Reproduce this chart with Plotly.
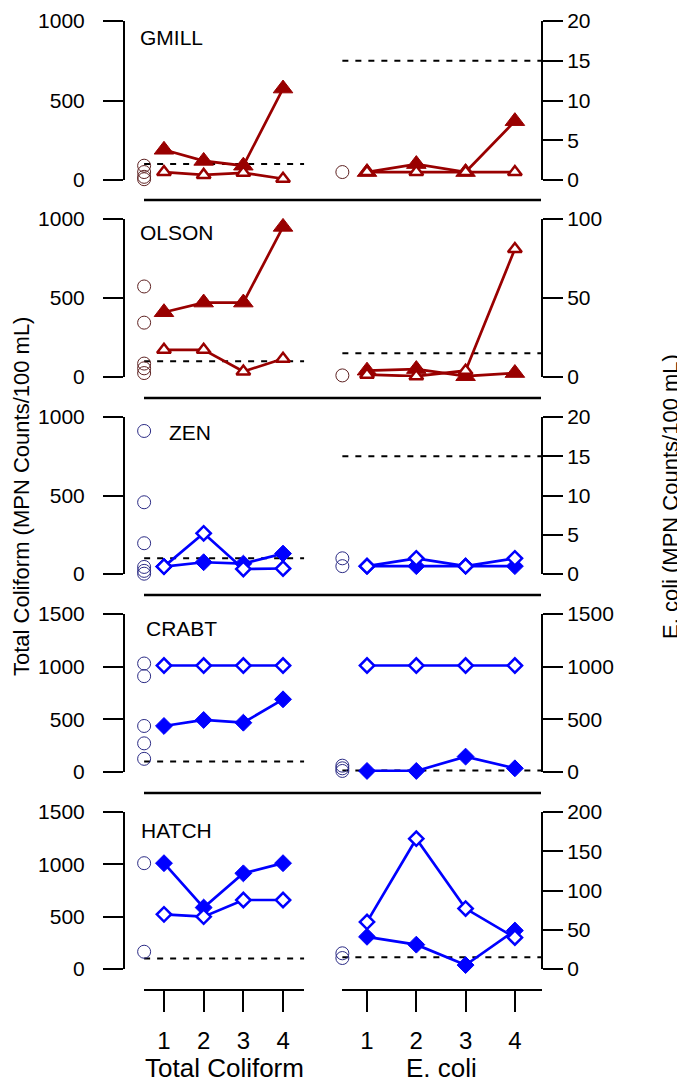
import plotly.graph_objects as go

W, H = 685, 1081
OFF = 8   # page body margin of the html page
FONT = "Liberation Sans, Arial, Helvetica, sans-serif"
DARKRED = "#990000"
BLUE = "#0000FF"
RED_REF = "#5e2222"
BLUE_REF = "#2b2b85"

# ---------------- data ----------------
sites = ["GMILL", "OLSON", "ZEN", "CRABT", "HATCH"]
weeks = [1, 2, 3, 4]
week_labels = ["1", "2", "3", "4"]
ref_position = 0.5          # category position of the reference samples
tc_standard = 100           # total coliform standard
ec_standard = 15            # E. coli standard

gmill_tc_solid = [190, 120, 90, 575]
gmill_tc_hollow = [50, 32, 45, 8]
gmill_tc_ref = [90, 50, 20, 5]
gmill_ec_solid = [1, 2, 1, 7.4]
gmill_ec_hollow = [1, 1, 1, 1]
gmill_ec_ref = [1]

olson_tc_solid = [410, 471, 471, 950]
olson_tc_hollow = [172, 172, 35, 115]
olson_tc_ref = [573, 344, 85, 55, 25]
olson_ec_solid = [4, 5, 0.5, 2.5]
olson_ec_hollow = [1.5, 0.5, 4, 81]
olson_ec_ref = [1]

zen_tc_solid = [47, 75, 66, 130]
zen_tc_hollow = [47, 259, 32, 35]
zen_tc_ref = [911, 457, 196, 45, 20, 2]
zen_ec_solid = [1, 1, 1, 1]
zen_ec_hollow = [1, 2, 1, 2]
zen_ec_ref = [2, 1]

crabt_tc_solid = [437, 494, 468, 690]
crabt_tc_hollow = [1011, 1011, 1011, 1011]
crabt_tc_ref = [1030, 910, 437, 272, 125]
crabt_ec_solid = [10, 10, 146, 35]
crabt_ec_hollow = [1011, 1011, 1011, 1011]
crabt_ec_ref = [60, 35, 10]

hatch_tc_solid = [1011, 587, 914, 1011]
hatch_tc_hollow = [522, 500, 659, 659]
hatch_tc_ref = [1011, 165]
hatch_ec_solid = [41, 31, 5, 49]
hatch_ec_hollow = [60, 166, 77, 40]
hatch_ec_ref = [20, 14]

tc_max = [1000, 1000, 1000, 1500, 1500]
ec_max = [20, 100, 20, 1500, 200]
ec_step = [5, 50, 5, 500, 50]

panels = [
    (gmill_tc_solid, gmill_tc_hollow, gmill_tc_ref, gmill_ec_solid, gmill_ec_hollow, gmill_ec_ref),
    (olson_tc_solid, olson_tc_hollow, olson_tc_ref, olson_ec_solid, olson_ec_hollow, olson_ec_ref),
    (zen_tc_solid, zen_tc_hollow, zen_tc_ref, zen_ec_solid, zen_ec_hollow, zen_ec_ref),
    (crabt_tc_solid, crabt_tc_hollow, crabt_tc_ref, crabt_ec_solid, crabt_ec_hollow, crabt_ec_ref),
    (hatch_tc_solid, hatch_tc_hollow, hatch_tc_ref, hatch_ec_solid, hatch_ec_hollow, hatch_ec_ref),
]

# ---------------- layout geometry (screen pixels) ----------------
panel_top = [21, 219, 417, 614, 812]
panel_bottom = [180, 377, 574, 772, 969]
label_x = [138, 138, 167, 144, 139]
label_y = [38, 233, 432, 628, 830]
plot_left, plot_right = 125, 541


def px(x):
    return (x - OFF) / W


def py(y):
    return 1 - (y - OFF) / H


fig = go.Figure()
layout = dict(
    width=W, height=H,
    margin=dict(l=0, r=0, t=0, b=0, pad=0, autoexpand=False),
    paper_bgcolor="white", plot_bgcolor="rgba(0,0,0,0)",
    showlegend=False,
    font=dict(family=FONT, color="black", size=21),
    xaxis=dict(domain=[px(plot_left), px(plot_right)], range=[0.018, 10.5],
               visible=False, anchor="y", automargin=False),
    xaxis2=dict(domain=[px(plot_left), px(plot_right)], range=[-3.91, 4.53],
                visible=False, anchor="y", overlaying="x", automargin=False),
)

shapes = []
annotations = []

axis_common = dict(showline=True, linewidth=2, linecolor="black", ticks="outside",
                   ticklen=20, tickwidth=2, tickcolor="black", showgrid=False,
                   zeroline=False, automargin=False,
                   tickfont=dict(size=21, family=FONT))

for i, (tcs, tch, tcr, ecs, ech, ecr) in enumerate(panels):
    yl = 2 * i + 1
    yr = 2 * i + 2
    dom = [py(panel_bottom[i]), py(panel_top[i])]
    layout[f"yaxis{yl}"] = dict(domain=dom, range=[0, tc_max[i]], anchor="x",
                               tickvals=list(range(0, tc_max[i] + 1, 500)),
                               ticklabelstandoff=14, **axis_common)
    layout[f"yaxis{yr}"] = dict(range=[0, ec_max[i]], anchor="x2", side="right",
                               overlaying=f"y{yl}",
                               tickvals=list(range(0, ec_max[i] + 1, ec_step[i])),
                               **axis_common)
    red = i < 2
    col = DARKRED if red else BLUE
    refcol = RED_REF if red else BLUE_REF
    sym = "triangle-up" if red else "diamond"
    s_size = 17 if red else 13
    h_size = 12 if red else 11

    for xa, ya, solid, hollow, ref in (("x", f"y{yl}", tcs, tch, tcr),
                                        ("x2", f"y{yr}", ecs, ech, ecr)):
        fig.add_trace(go.Scatter(
            x=weeks, y=solid, xaxis=xa, yaxis=ya, mode="lines+markers",
            line=dict(color=col, width=2.7), cliponaxis=False,
            marker=dict(symbol=sym, size=s_size, color=col, line=dict(width=1, color=col))))
        fig.add_trace(go.Scatter(
            x=weeks, y=hollow, xaxis=xa, yaxis=ya, mode="lines+markers",
            line=dict(color=col, width=2.7), cliponaxis=False,
            marker=dict(symbol=sym, size=h_size, color="white", line=dict(width=2.5, color=col))))
        fig.add_trace(go.Scatter(
            x=[ref_position] * len(ref), y=ref, xaxis=xa, yaxis=ya, mode="markers",
            cliponaxis=False,
            marker=dict(symbol="circle-open", size=13, color=refcol, line=dict(width=1, color=refcol))))

    # standards (dashed)
    shapes.append(dict(type="line", xref="x", yref=f"y{yl}", x0=ref_position, x1=4.53,
                       y0=tc_standard, y1=tc_standard, layer="below",
                       line=dict(color="black", width=2, dash="6px,7px")))
    shapes.append(dict(type="line", xref="x2", yref=f"y{yr}", x0=ref_position, x1=4.53,
                       y0=ec_standard, y1=ec_standard, layer="below",
                       line=dict(color="black", width=2, dash="6px,7px")))
    # panel separator line
    shapes.append(dict(type="line", xref="paper", yref="paper", x0=px(144), x1=px(541),
                       y0=py(panel_top[i] - 19), y1=py(panel_top[i] - 19),
                       line=dict(color="black", width=2.5)))
    annotations.append(dict(text=sites[i], xref="paper", yref="paper",
                            x=px(label_x[i]), y=py(label_y[i]), xanchor="left",
                            yanchor="middle", showarrow=False, font=dict(size=21)))

# bottom category axes
layout["yaxis11"] = dict(domain=[py(989), py(984)], range=[0, 1], visible=False,
                         anchor="x3", automargin=False)
bottom_common = dict(showline=True, linewidth=2, linecolor="black", ticks="outside",
                     ticklen=21, tickwidth=2, tickcolor="black", showgrid=False,
                     zeroline=False, tickvals=weeks, ticktext=week_labels,
                     tickfont=dict(size=24, family=FONT), ticklabelstandoff=8,
                     anchor="y11", automargin=False)
layout["xaxis3"] = dict(domain=[px(144), px(304)], range=[0.496, 4.527], **bottom_common)
layout["xaxis4"] = dict(domain=[px(342), px(542)], range=[0.493, 4.55], **bottom_common)
fig.add_trace(go.Scatter(x=[], y=[], xaxis="x3", yaxis="y11"))
fig.add_trace(go.Scatter(x=[], y=[], xaxis="x4", yaxis="y11"))

annotations += [
    dict(text="Total Coliform", xref="paper", yref="paper", x=px(224), y=py(1068),
         xanchor="center", yanchor="middle", showarrow=False, font=dict(size=26)),
    dict(text="E. coli", xref="paper", yref="paper", x=px(441), y=py(1068),
         xanchor="center", yanchor="middle", showarrow=False, font=dict(size=26)),
    dict(text="Total Coliform (MPN Counts/100 mL)", xref="paper", yref="paper",
         x=px(21), y=py(497), textangle=-90, xanchor="center", yanchor="middle",
         showarrow=False, font=dict(size=22)),
    dict(text="E. coli (MPN Counts/100 mL)", xref="paper", yref="paper",
         x=px(670), y=py(497), textangle=-90, xanchor="center", yanchor="middle",
         showarrow=False, font=dict(size=22)),
]

layout["shapes"] = shapes
layout["annotations"] = annotations
fig.update_layout(**layout)
fig.write_html("out.html")
